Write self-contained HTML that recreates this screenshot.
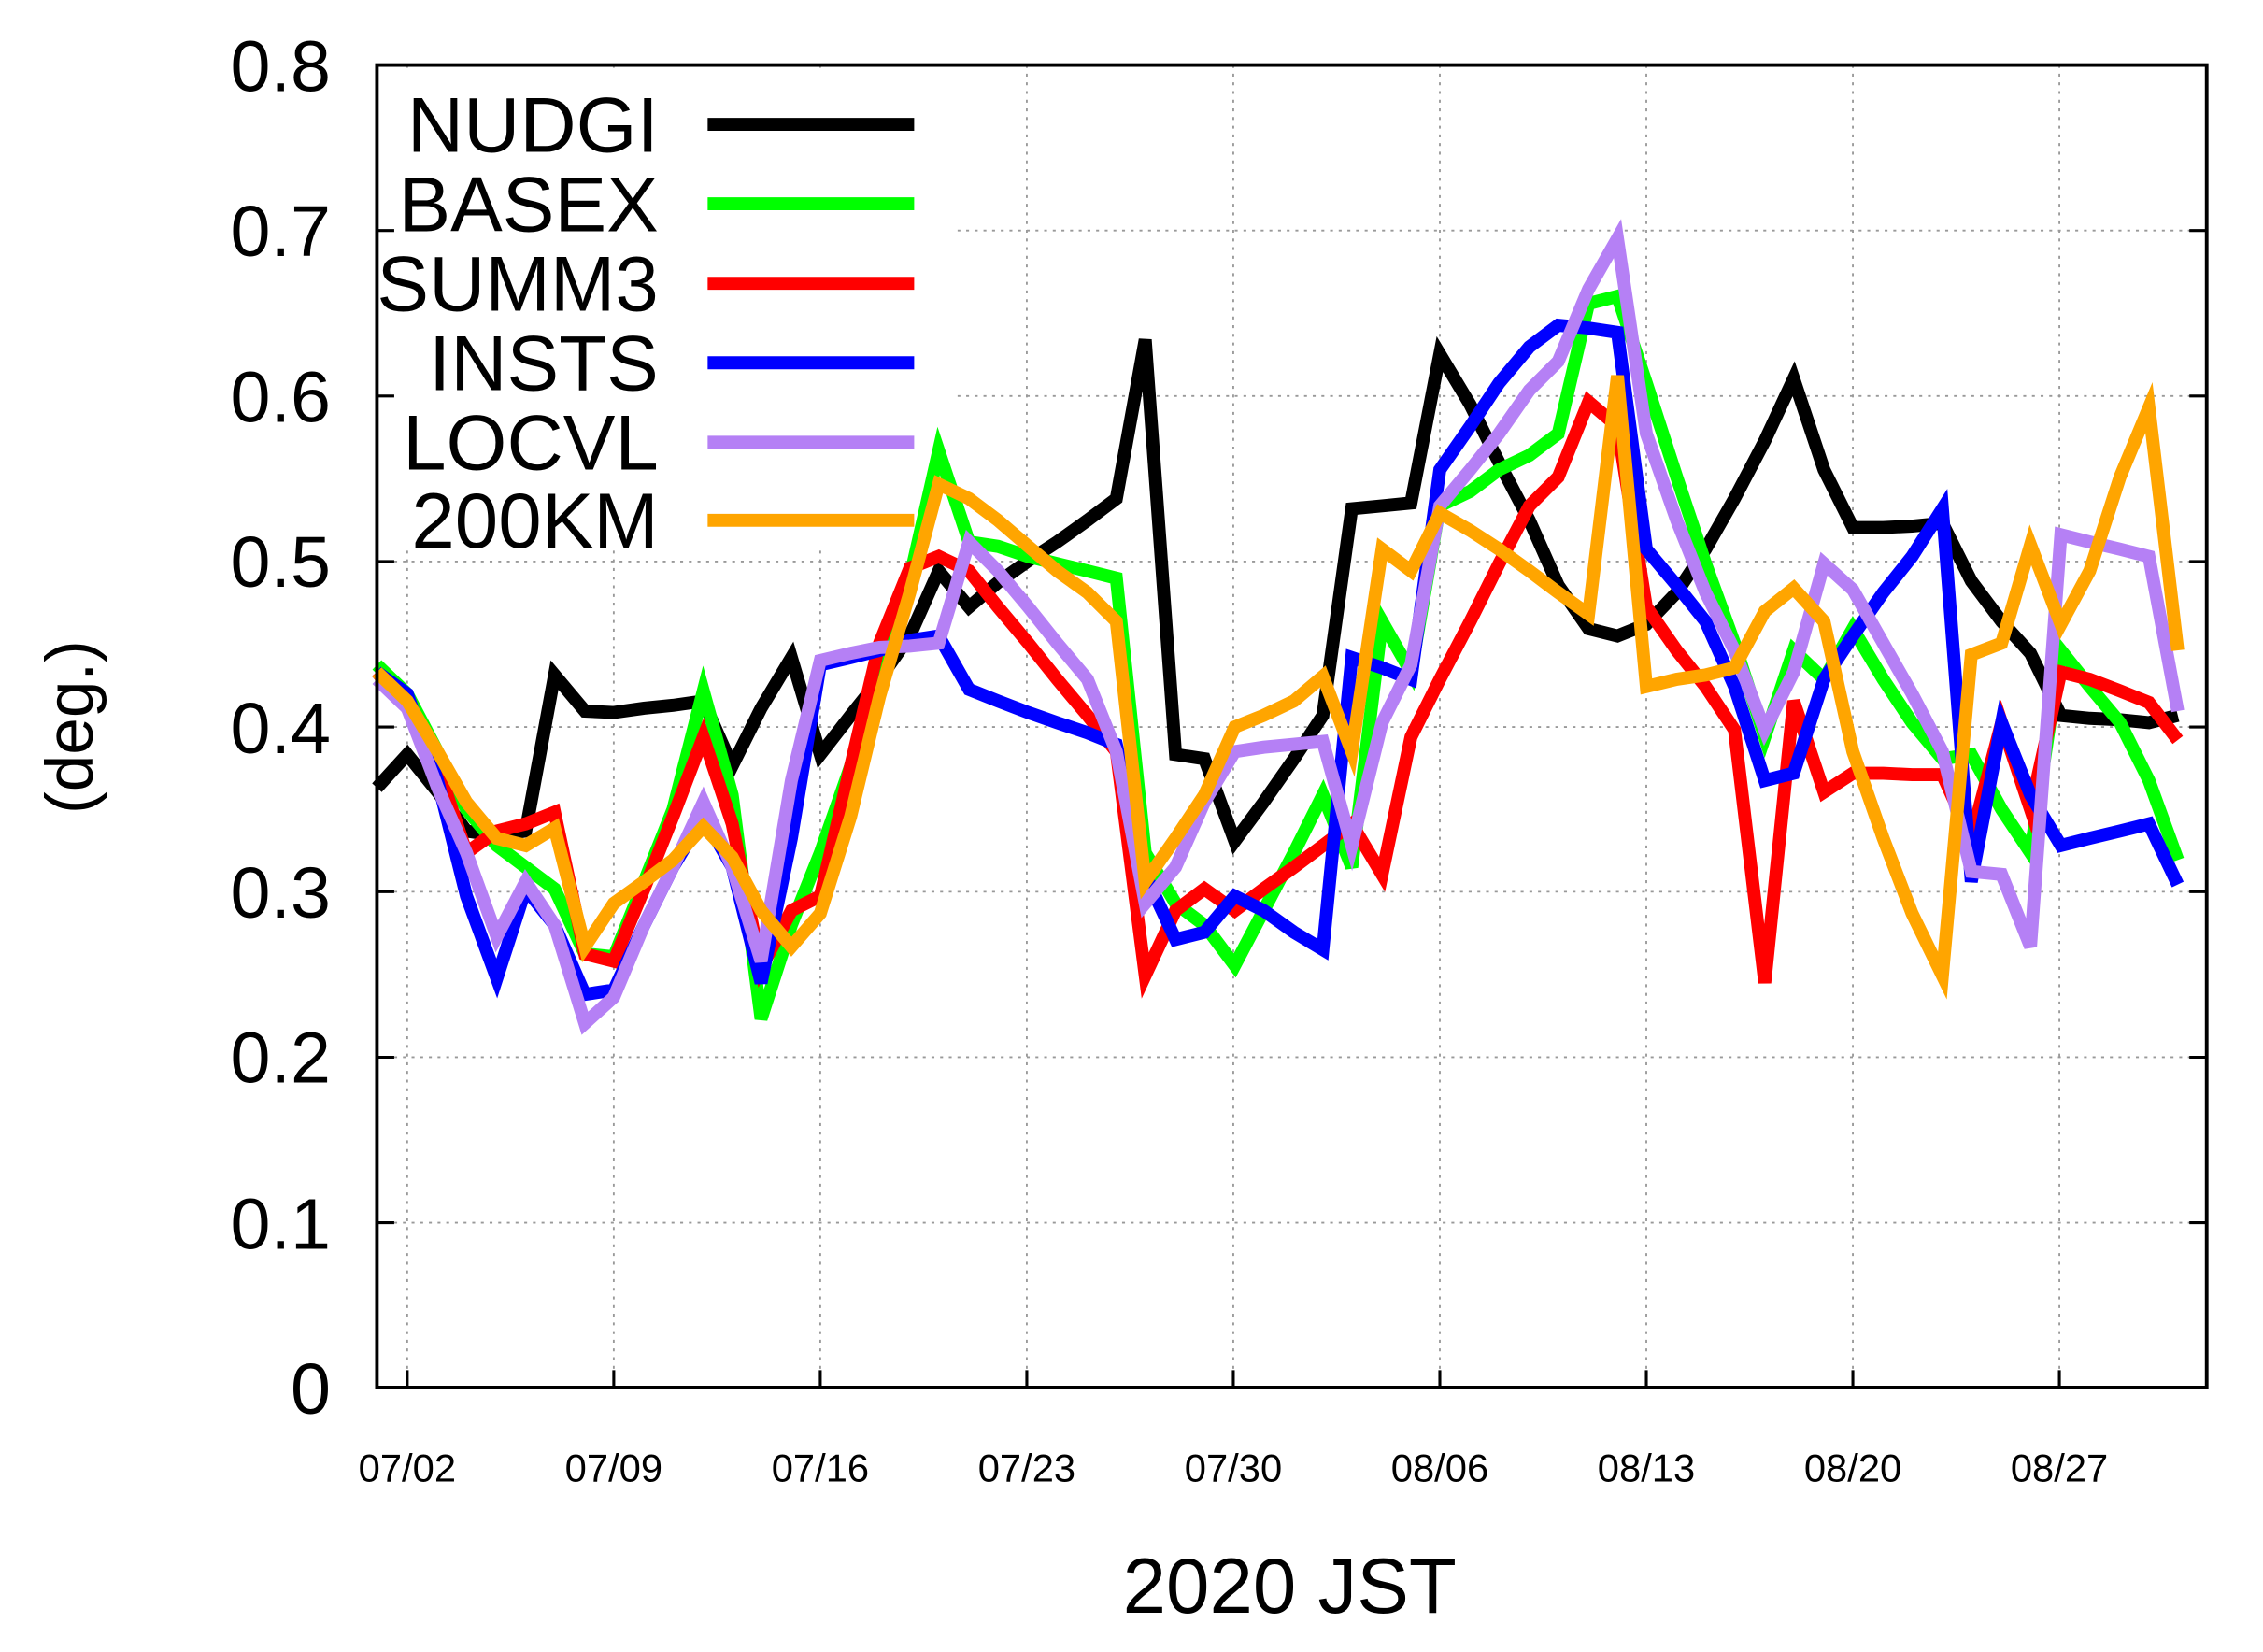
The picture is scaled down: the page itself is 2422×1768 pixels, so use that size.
<!DOCTYPE html>
<html><head><meta charset="utf-8"><style>
html,body{margin:0;padding:0;background:#fff;}
svg{display:block;}
text{font-family:"Liberation Sans",sans-serif;fill:#000;}
</style></head><body>
<svg width="2422" height="1768" viewBox="0 0 1567 1143" preserveAspectRatio="none" xmlns="http://www.w3.org/2000/svg">
<rect x="0" y="0" width="1567" height="1143" fill="#fff"/>
<g stroke="#999" stroke-width="1.2" stroke-dasharray="2,4">
<line x1="261" y1="846" x2="1528" y2="846"/>
<line x1="261" y1="731.5" x2="1528" y2="731.5"/>
<line x1="261" y1="617" x2="1528" y2="617"/>
<line x1="261" y1="503" x2="1528" y2="503"/>
<line x1="261" y1="388.5" x2="1528" y2="388.5"/>
<line x1="261" y1="274" x2="1528" y2="274"/>
<line x1="261" y1="159.5" x2="1528" y2="159.5"/>
<line x1="282" y1="45" x2="282" y2="960"/>
<line x1="425" y1="45" x2="425" y2="960"/>
<line x1="568" y1="45" x2="568" y2="960"/>
<line x1="711" y1="45" x2="711" y2="960"/>
<line x1="854" y1="45" x2="854" y2="960"/>
<line x1="997" y1="45" x2="997" y2="960"/>
<line x1="1140" y1="45" x2="1140" y2="960"/>
<line x1="1283" y1="45" x2="1283" y2="960"/>
<line x1="1426" y1="45" x2="1426" y2="960"/>
</g>
<rect x="263" y="47" width="400" height="333" fill="#fff"/>
<g fill="none" stroke-width="9" stroke-linejoin="miter">
<polyline stroke="#000" points="261,545 282,522 303,548 323,575 344,578 364,575 384,467 405,492 425,493 446,490 466,488 487,485 507,530 527,490 548,455 568,522 589,495 609,470 630,440 650,395 671,420 691,403 712,388 732,375 753,360 773,345 793,235 814,522 834,525 855,582 875,555 896,525 916,495 936,352 957,350 977,348 997,245 1018,280 1038,320 1059,360 1079,405 1100,435 1120,440 1140,432 1161,410 1181,380 1201,345 1222,305 1242,262 1263,325 1283,365 1304,365 1324,364 1345,362 1365,402 1386,430 1406,452 1427,495 1447,497 1468,498 1488,500 1508,495"/>
<polyline stroke="#00ff00" points="261,460 282,480 303,520 323,560 344,585 364,600 384,615 405,660 425,662 446,610 466,560 487,478 507,550 527,705 548,640 568,590 589,530 609,465 630,400 650,312 671,375 691,378 712,385 732,390 753,395 773,400 793,590 814,625 834,640 855,668 875,630 896,590 916,550 936,600 957,430 977,465 997,350 1018,340 1038,325 1059,315 1079,300 1100,210 1120,205 1140,265 1161,330 1181,390 1201,445 1222,510 1242,450 1263,470 1283,435 1304,470 1324,500 1345,525 1365,522 1386,560 1406,590 1427,450 1447,475 1468,500 1488,540 1508,595"/>
<polyline stroke="#ff0000" points="261,465 282,490 303,530 323,590 344,575 364,570 384,562 405,660 425,665 446,615 466,565 487,510 507,570 527,670 548,630 568,620 589,530 609,445 630,393 650,385 671,395 691,420 712,445 732,470 753,495 773,520 793,675 814,630 834,615 855,630 875,615 896,600 916,585 936,570 957,605 977,510 997,470 1018,430 1038,390 1059,350 1079,330 1100,278 1120,295 1140,420 1161,450 1181,475 1201,505 1222,680 1242,485 1263,548 1283,535 1304,535 1324,536 1345,536 1365,580 1386,500 1406,560 1427,465 1447,470 1468,478 1488,486 1508,512"/>
<polyline stroke="#0000ff" points="261,465 282,480 303,540 323,620 344,677 364,615 384,640 405,688 425,685 446,640 466,600 487,565 507,600 527,680 548,580 568,460 589,455 609,450 630,443 650,440 671,477 691,485 712,493 732,500 753,507 773,515 793,605 814,650 834,645 855,620 875,630 896,645 916,657 936,455 957,462 977,470 997,325 1018,295 1038,265 1059,240 1079,225 1100,227 1120,230 1140,380 1161,405 1181,430 1201,475 1222,540 1242,535 1263,470 1283,440 1304,410 1324,385 1345,352 1365,610 1386,500 1406,550 1427,585 1447,580 1468,575 1488,570 1508,612"/>
<polyline stroke="#b580f5" points="261,470 282,490 303,545 323,590 344,648 364,610 384,640 405,708 425,690 446,640 466,600 487,555 507,600 527,665 548,540 568,457 589,452 609,448 630,447 650,445 671,375 691,395 712,420 732,445 753,470 773,520 793,625 814,600 834,555 855,520 875,517 896,515 916,513 936,585 957,500 977,460 997,350 1018,325 1038,300 1059,270 1079,250 1100,200 1120,165 1140,300 1161,360 1181,410 1201,450 1222,505 1242,465 1263,390 1283,408 1304,445 1324,480 1345,520 1365,603 1386,605 1406,655 1427,370 1447,375 1468,380 1488,385 1508,492"/>
<polyline stroke="#ffa500" points="261,465 282,485 303,520 323,555 344,580 364,585 384,573 405,655 425,625 446,610 466,595 487,572 507,593 527,630 548,655 568,632 589,565 609,482 630,410 650,335 671,345 691,360 712,378 732,395 753,410 773,430 793,610 814,580 834,550 855,503 875,495 896,485 916,468 936,520 957,380 977,395 997,355 1018,367 1038,380 1059,395 1079,410 1100,425 1120,260 1140,475 1161,470 1181,467 1201,462 1222,423 1242,407 1263,430 1283,520 1304,580 1324,632 1345,675 1365,453 1386,445 1406,377 1427,432 1447,395 1468,330 1488,282 1508,450"/>
<line stroke="#000" x1="490" y1="86" x2="633" y2="86"/>
<line stroke="#00ff00" x1="490" y1="141" x2="633" y2="141"/>
<line stroke="#ff0000" x1="490" y1="196" x2="633" y2="196"/>
<line stroke="#0000ff" x1="490" y1="251" x2="633" y2="251"/>
<line stroke="#b580f5" x1="490" y1="306" x2="633" y2="306"/>
<line stroke="#ffa500" x1="490" y1="360" x2="633" y2="360"/>
</g>
<g font-size="54" text-anchor="end">
<text x="456" y="105">NUDGI</text>
<text x="456" y="160">BASEX</text>
<text x="456" y="215">SUMM3</text>
<text x="456" y="270">INSTS</text>
<text x="456" y="325">LOCVL</text>
<text x="456" y="379">200KM</text>
</g>
<rect x="261" y="45" width="1267" height="915" fill="none" stroke="#000" stroke-width="2.5"/>
<g stroke="#000" stroke-width="2">
<line x1="261" y1="846" x2="273" y2="846"/><line x1="261" y1="731.5" x2="273" y2="731.5"/><line x1="261" y1="617" x2="273" y2="617"/><line x1="261" y1="503" x2="273" y2="503"/><line x1="261" y1="388.5" x2="273" y2="388.5"/><line x1="261" y1="274" x2="273" y2="274"/><line x1="261" y1="159.5" x2="273" y2="159.5"/>
<line x1="1516" y1="846" x2="1528" y2="846"/><line x1="1516" y1="731.5" x2="1528" y2="731.5"/><line x1="1516" y1="617" x2="1528" y2="617"/><line x1="1516" y1="503" x2="1528" y2="503"/><line x1="1516" y1="388.5" x2="1528" y2="388.5"/><line x1="1516" y1="274" x2="1528" y2="274"/><line x1="1516" y1="159.5" x2="1528" y2="159.5"/>
<line x1="282" y1="948" x2="282" y2="960"/><line x1="425" y1="948" x2="425" y2="960"/><line x1="568" y1="948" x2="568" y2="960"/><line x1="711" y1="948" x2="711" y2="960"/><line x1="854" y1="948" x2="854" y2="960"/><line x1="997" y1="948" x2="997" y2="960"/><line x1="1140" y1="948" x2="1140" y2="960"/><line x1="1283" y1="948" x2="1283" y2="960"/><line x1="1426" y1="948" x2="1426" y2="960"/>
</g>
<g font-size="50" text-anchor="end">
<text x="229" y="978">0</text>
<text x="229" y="864">0.1</text>
<text x="229" y="749">0.2</text>
<text x="229" y="635">0.3</text>
<text x="229" y="521">0.4</text>
<text x="229" y="406">0.5</text>
<text x="229" y="292">0.6</text>
<text x="229" y="177">0.7</text>
<text x="229" y="63">0.8</text>
</g>
<g font-size="27" text-anchor="middle">
<text x="282" y="1025">07/02</text>
<text x="425" y="1025">07/09</text>
<text x="568" y="1025">07/16</text>
<text x="711" y="1025">07/23</text>
<text x="854" y="1025">07/30</text>
<text x="997" y="1025">08/06</text>
<text x="1140" y="1025">08/13</text>
<text x="1283" y="1025">08/20</text>
<text x="1426" y="1025">08/27</text>
</g>
<text x="893" y="1116" font-size="54" text-anchor="middle">2020 JST</text>
<text transform="translate(64,503) rotate(-90)" font-size="46" text-anchor="middle">(deg.)</text>
</svg>
</body></html>
